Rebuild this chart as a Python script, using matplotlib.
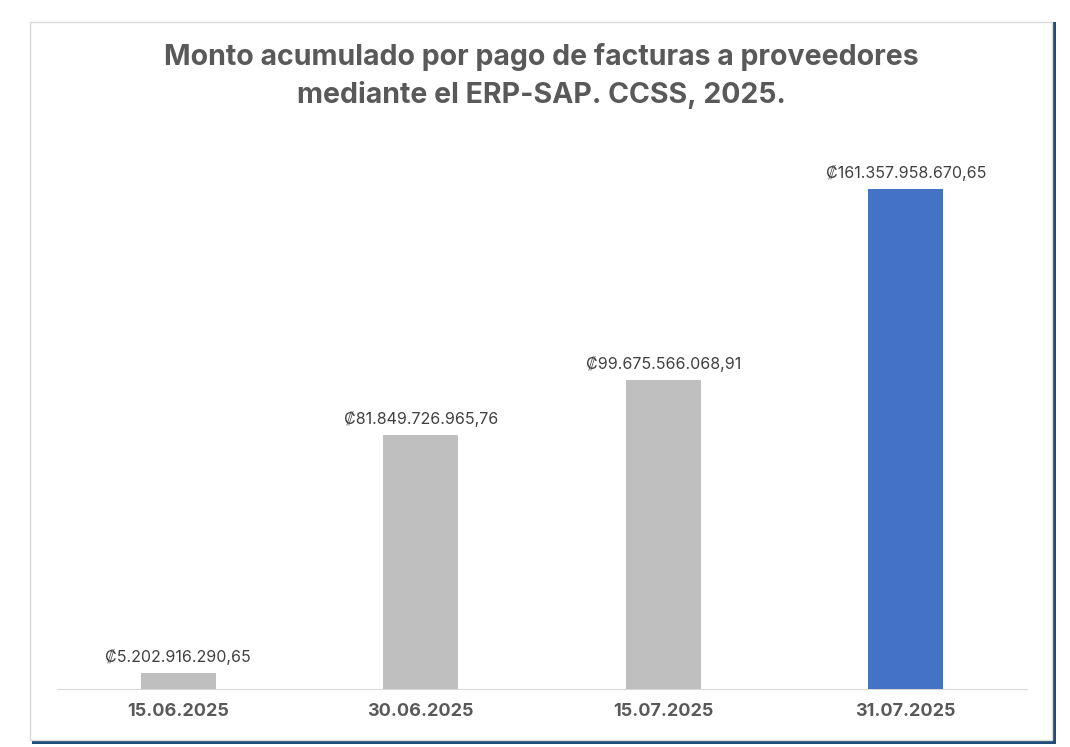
import matplotlib
matplotlib.use('Agg')
import matplotlib.pyplot as plt
from matplotlib.patches import Rectangle

dates = ['15.06.2025', '30.06.2025', '15.07.2025', '31.07.2025']
amounts = [5202916290.65, 81849726965.76, 99675566068.91, 161357958670.65]
bar_colors = ['#BFBFBF', '#BFBFBF', '#BFBFBF', '#4472C4']

plt.rcParams['font.family'] = ['Inter', 'DejaVu Sans']


def fmt_colones(v):
    s = f'{v:,.2f}'
    s = s.replace(',', 'X').replace('.', ',').replace('X', '.')
    return '\u20a1' + s


fig = plt.figure(figsize=(10.7, 7.47), dpi=100)
fig.patch.set_facecolor('white')

# frame with dark blue shadow on right/bottom
fig.patches.append(Rectangle((32 / 1070, 1 - 744 / 747), 1024 / 1070, 722 / 747,
                             transform=fig.transFigure, facecolor='#1F4E79',
                             edgecolor='none', zorder=0))
fig.patches.append(Rectangle((30 / 1070, 1 - 740 / 747), 1022 / 1070, 718 / 747,
                             transform=fig.transFigure, facecolor='white',
                             edgecolor='#D9D9D9', linewidth=1, zorder=1))

ax = fig.add_axes([57 / 1070, 1 - 689 / 747, 970 / 1070, 549 / 747])
ax.set_zorder(5)
ax.set_facecolor('none')
x = range(len(dates))
ax.bar(x, amounts, width=0.31, color=bar_colors, zorder=3)
ax.set_xlim(-0.5, 3.5)
ax.set_ylim(0, amounts[-1] * 549 / 500)

for xi, v in zip(x, amounts):
    ax.text(xi, v + amounts[-1] * 0.016, fmt_colones(v), ha='center', va='bottom',
            fontsize=11.5, color='#404040')

ax.set_xticks(list(x))
ax.set_xticklabels(dates, fontsize=13, fontweight='bold', color='#595959')
ax.tick_params(axis='x', length=0, pad=10)
ax.set_yticks([])
for side in ['top', 'right', 'left']:
    ax.spines[side].set_visible(False)
ax.spines['bottom'].set_color('#D9D9D9')

fig.text(541 / 1070, 1 - 76 / 747,
         'Monto acumulado por pago de facturas a proveedores\nmediante el ERP-SAP. CCSS, 2025.',
         ha='center', va='center', fontsize=20.5, fontweight='bold', color='#595959',
         linespacing=1.45, zorder=6)

fig.savefig('out.png', dpi=100)
